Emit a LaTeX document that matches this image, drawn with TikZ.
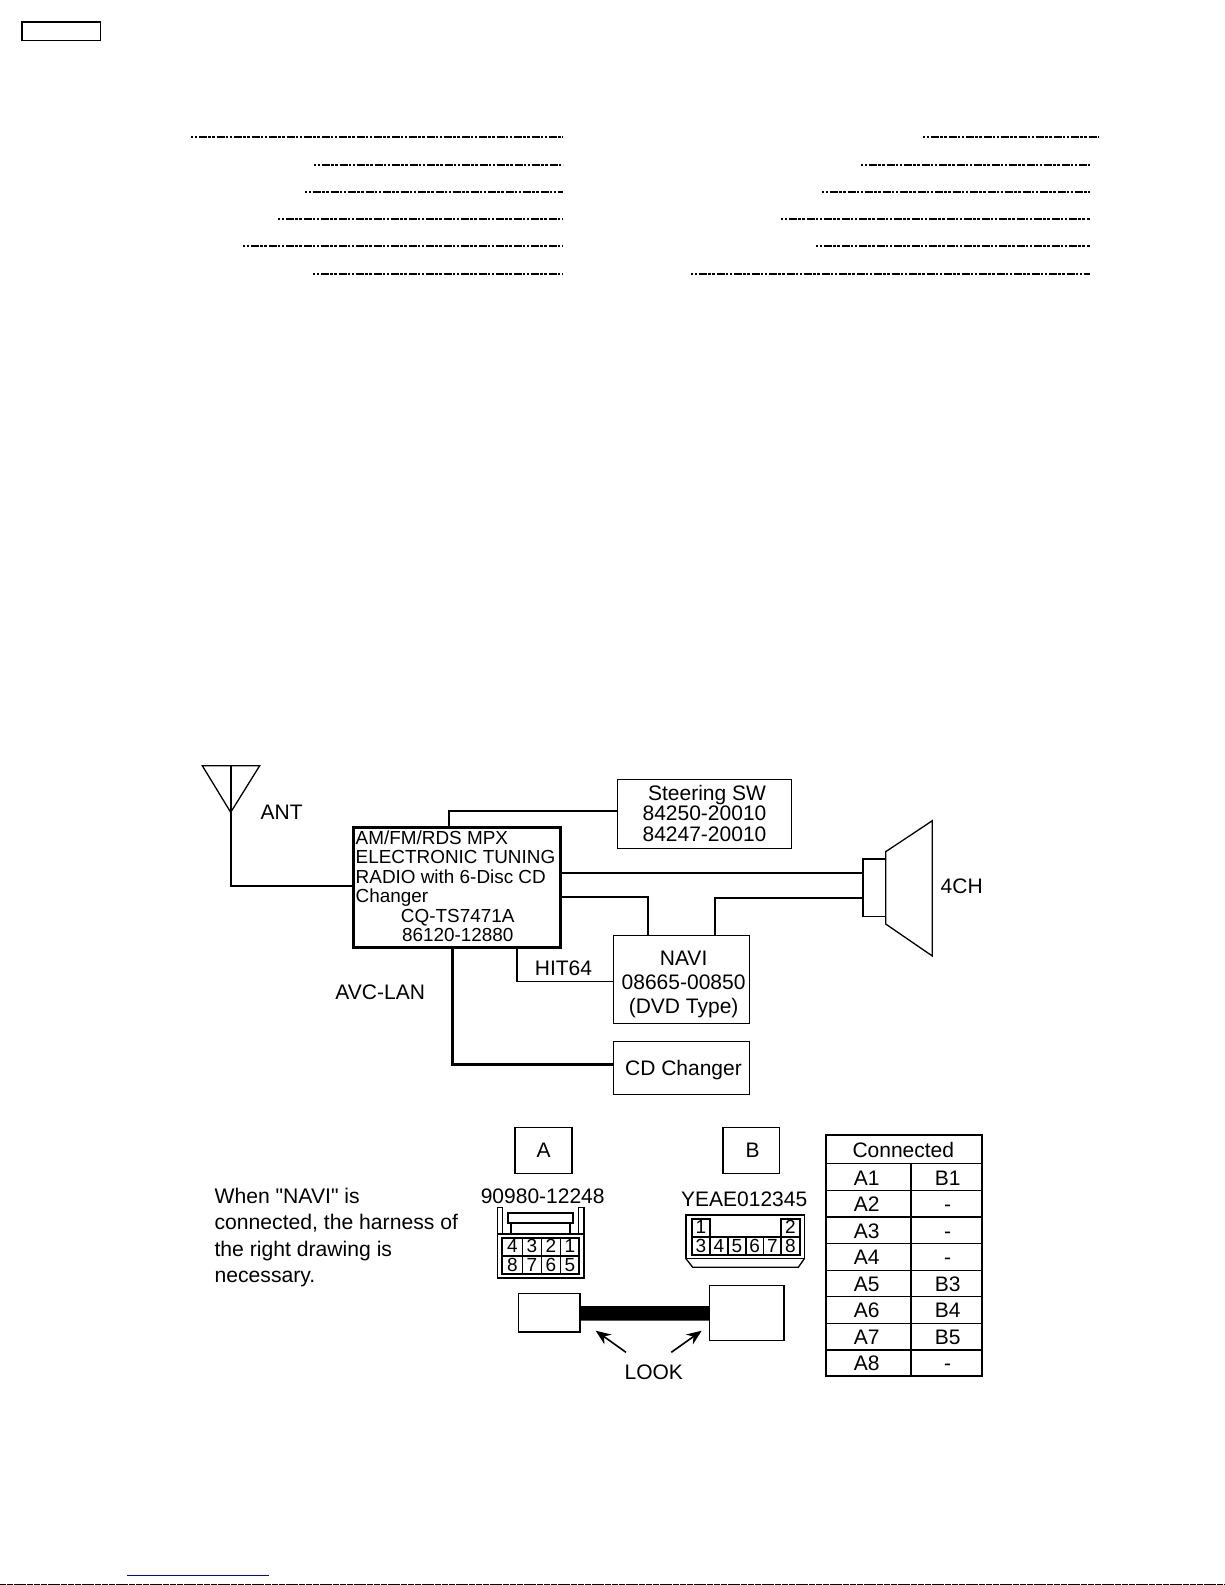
\documentclass[tikz,border=0pt]{standalone}
\usepackage{fontspec}
\setmainfont{Liberation Sans}[Ligatures=TeXOff]
\usetikzlibrary{arrows.meta}
\newcommand{\blk}[4]{\smash{\makebox[0pt]{\hspace*{#1}\raisebox{#2}{\setlength{\tabcolsep}{0pt}\begin{tabular}[t]{#3}#4\end{tabular}}}}}
\tikzset{
  txt/.style={font=\fontsize{21}{24}\selectfont,inner sep=0pt,outer sep=0pt,anchor=base},
  digit/.style={font=\fontsize{19}{20}\selectfont,inner sep=0pt,outer sep=0pt,anchor=base},
  boxn/.style={draw,line width=1.4pt,rectangle,inner sep=0pt,outer sep=0pt},
  wire/.style={draw,line width=1.6pt},
  wirem/.style={draw,line width=2pt},
  wireh/.style={draw,line width=3.3pt},
  part/.style={draw,line width=1.3pt},
  partb/.style={draw,line width=1.9pt},
  dots/.style={line width=2pt,dash pattern=on 2pt off 2pt on 2pt off 1.5pt on 8pt off 1.5pt on 2.5pt off 1.5pt on 3pt off 1.5pt on 8pt off 1.5pt},
}
\begin{document}
\begin{tikzpicture}[x=1pt,y=-1pt]
\useasboundingbox (0,0) rectangle (1225,1585);
% top-left box
\node[boxn,minimum width=78.5pt,minimum height=18.3pt] (tag) at (61.3,31.3) {};
% dotted leaders
\foreach \a/\b/\y in {191/563/137,314/563/165,305/563/192,278/563/219,243/563/246,313/563/274,
  923/1099/137,861/1090/165,822/1090/192,781/1090/219,816/1090/246,691/1090/274}
  \draw[dots] (\a,\y) -- (\b,\y);
% main nodes
\node[draw,line width=3pt,rectangle,inner sep=0pt,outer sep=0pt,minimum width=207.7pt,minimum height=120pt,
  font=\fontsize{18.9}{19.4}\selectfont] (radio) at (456.85,887.3)
  {\blk{-2.7pt}{42.8pt}{l}{AM/FM/RDS MPX\\ELECTRONIC TUNING\\RADIO with 6-Disc CD\\Changer\\
   \multicolumn{1}{c}{\hspace*{4.4pt}CQ-TS7471A}\\\multicolumn{1}{c}{\hspace*{4.4pt}86120-12880}}};
\node[boxn,minimum width=173.6pt,minimum height=68.6pt,font=\fontsize{21}{20.7}\selectfont] (steer) at (704.5,814)
  {\blk{0pt}{14pt}{c}{\hspace*{5pt}Steering SW\\84250-20010\\84247-20010}};
\node[boxn,minimum width=135.6pt,minimum height=88pt,font=\fontsize{21}{24}\selectfont] (navi) at (681.5,979.7)
  {\blk{4.2pt}{14.7pt}{c}{NAVI\\08665-00850\\(DVD Type)}};
\node[boxn,minimum width=135.6pt,minimum height=53pt,font=\fontsize{21}{24}\selectfont] (cd) at (681.5,1068.2)
  {\blk{4pt}{-6.8pt}{c}{CD Changer}};
\node[boxn,minimum width=22.7pt,minimum height=57.3pt] (spkbase) at (874.35,887.65) {};
\draw[part,line join=miter] (885.7,851.7) -- (932.3,820.7) -- (932.3,956) -- (885.7,924) -- cycle;
% antenna
\coordinate (anttop) at (230.7,765.7);
\coordinate (anttip) at (230.7,812.3);
\draw[part] (202.3,765.7) -- (259.7,765.7) -- (anttip) -- cycle;
\draw[wire] (anttop) -- (anttip) |- ([yshift=1.6pt]radio.west);
% connectors
\draw[wire] ([xshift=-7.85pt]radio.north) |- ([yshift=3pt]steer.west);
\draw[wirem] ([yshift=14.6pt]radio.east) -- ([yshift=14.95pt]spkbase.west);
\draw[wire] ([yshift=-9.4pt]radio.east) -| ([xshift=-33.5pt]navi.north);
\draw[wirem] ([xshift=33.5pt]navi.north) |- ([yshift=-10.05pt]spkbase.west);
\draw[wire] ([xshift=59.85pt]radio.south) |- ([yshift=-1.6pt]navi.west);
\draw[wireh] ([xshift=-4.55pt]radio.south) |- ([yshift=3.9pt]cd.west);
% free labels
\node[txt] (antl) at (281.7,819) {ANT};
\node[txt] (hit) at (563.5,975.7) {HIT64};
\node[txt] (avc) at (380.2,999) {AVC-LAN};
\node[txt] (ch) at (961.7,893.3) {4CH};
% A and B
\node[boxn,minimum width=57pt,minimum height=46pt,font=\fontsize{21}{24}\selectfont] (boxa) at (543.5,1150.7) {\blk{0pt}{-7pt}{c}{A}};
\node[boxn,minimum width=56.3pt,minimum height=46pt,font=\fontsize{21}{24}\selectfont] (boxb) at (751.15,1150.7) {\blk{3pt}{-7pt}{c}{B}};
\node[txt] (pna) at (542.7,1203.3) {90980-12248};
\node[txt] (pnb) at (744.2,1206.7) {YEAE012345};
% connector A drawing
\draw[part] (497.5,1234) rectangle (584,1278);
\draw[part] (497.5,1234) -- (497.5,1207.3) -- (502.3,1207.3) -- (502.3,1234);
\draw[part] (578.8,1234) -- (578.8,1207.3) -- (584,1207.3) -- (584,1234);
\draw[partb] (507.7,1213) rectangle (573.3,1222.7);
\draw[part] (511,1222.7) -- (511,1234);
\draw[part] (570,1222.7) -- (570,1234);
\draw[partb] (502.3,1237.7) rectangle (579.3,1274);
\draw[part] (502.3,1256) -- (579.3,1256);
\foreach \x in {522.3,541.3,560.3} \draw[part] (\x,1237.7) -- (\x,1274);
\foreach \n/\x in {4/512.3,3/531.8,2/550.8,1/569.8} \node[digit] (at\n) at (\x,1252.7) {\n};
\foreach \n/\x in {8/512.3,7/531.8,6/550.8,5/569.8} \node[digit] (at\n) at (\x,1271.7) {\n};
% connector B drawing
\draw[part] (686,1215) rectangle (804.3,1258.7);
\draw[part] (686,1258.7) -- (692.7,1267.3) -- (798.3,1267.3) -- (804.3,1258.7);
\draw[partb] (691.7,1218.7) rectangle (710,1237);
\draw[partb] (781,1218.7) rectangle (800,1237);
\draw[partb] (691.7,1237) rectangle (800,1255);
\foreach \x in {710,728,746,763.3,781} \draw[part] (\x,1237) -- (\x,1255);
\foreach \n/\x/\y in {1/700.8/1233.3,2/790.3/1233.3,3/700.8/1252.3,4/718.9/1252.3,5/736.9/1252.3,6/754.6/1252.3,7/772.3/1252.3,8/790.3/1252.3}
  \node[digit] (bt\n) at (\x,\y) {\n};
% harness
\node[boxn,minimum width=61.3pt,minimum height=38.3pt] (ha) at (549.35,1312.85) {};
\node[boxn,minimum width=74.7pt,minimum height=55pt] (hb) at (746.65,1313.2) {};
\draw[line width=14.7pt] ([yshift=-0.5pt]ha.east) -- ([yshift=-0.15pt]hb.west);
% LOOK
\node[txt] (look) at (653.8,1379.8) {LOOK};
\coordinate (la) at (626,1352.3); \coordinate (lat) at (595.7,1330.7);
\coordinate (lb) at (671.3,1352.3); \coordinate (lbt) at (701.7,1330.7);
\draw[wire,-{Stealth[length=15pt,width=12pt]}] (la) -- (lat);
\draw[wire,-{Stealth[length=15pt,width=12pt]}] (lb) -- (lbt);
% note
\node[font=\fontsize{21.15}{26.5}\selectfont,inner sep=0pt,outer sep=0pt,anchor=base west] (note) at (214.6,1203.3)
  {\setlength{\tabcolsep}{0pt}\begin{tabular}[t]{l}When "NAVI" is\\connected, the harness of\\the right drawing is\\necessary.\end{tabular}};
% table
\draw[partb] (825.7,1134.7) rectangle (981.7,1375.7);
\foreach \y in {1163.7,1190.3,1217,1243.7,1270.3,1296.7,1323.3,1350} \draw[part] (825.7,\y) -- (981.7,\y);
\draw[part] (911,1163.7) -- (911,1375.7);
\node[txt] (conn) at (903.3,1157.3) {Connected};
\foreach \i/\b/\y in {1/B1/1185,2/-/1211.5,3/-/1238,4/-/1264.6,5/B3/1291.2,6/B4/1317.7,7/B5/1344.3,8/-/1370.8}{
  \node[txt] (ta\i) at (866.7,\y) {A\i};
  \node[txt] (tb\i) at (947.7,\y) {\b};
}
% page bottom
\draw[line width=1pt,color={rgb,255:red,0;green,0;blue,220}] (127,1575.5) -- (268.7,1575.5);
\draw[line width=1pt,dash pattern=on 6pt off 0.8pt] (0,1584.5) -- (1225,1584.5);
\end{tikzpicture}
\end{document}
